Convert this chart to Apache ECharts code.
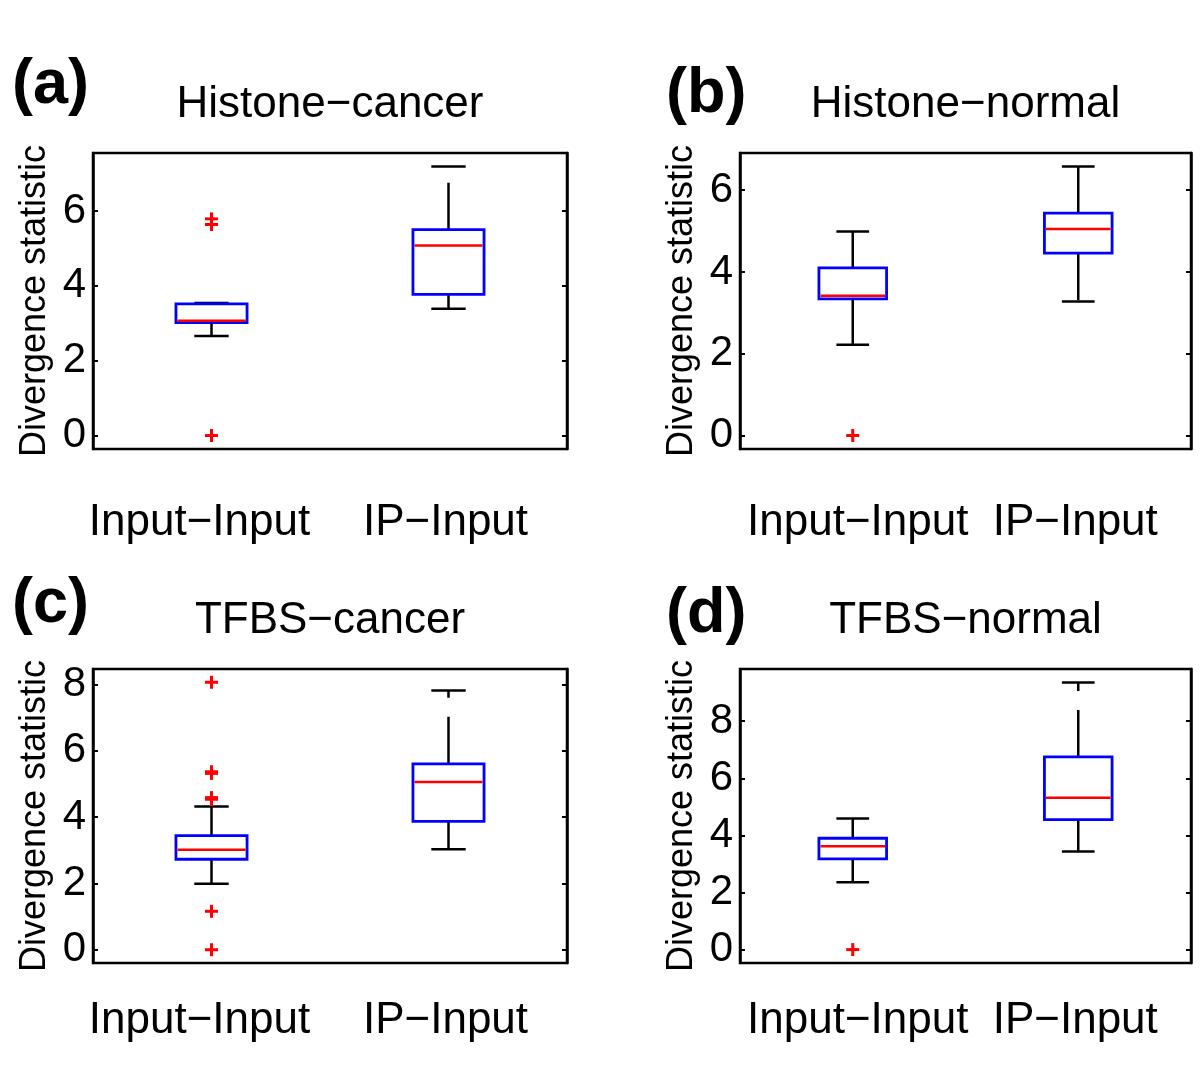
<!DOCTYPE html>
<html>
<head>
<meta charset="utf-8">
<script src="https://cdn.jsdelivr.net/npm/echarts@6/dist/echarts.min.js"></script>
<style>
html, body { margin: 0; padding: 0; background: #fff; }
#main { width: 1200px; height: 1075px; }
</style>
</head>
<body>
<div id="main"></div>
<script>
// categories shared by all four panels
var categories = ['Input\u2212Input', 'IP\u2212Input'];

// box stats per category: [lower whisker, q1, median, q3, upper whisker]
var histoneCancerBox = [[2.66, 3.02, 3.07, 3.52, 3.54], [3.39, 3.77, 5.08, 5.50, 7.19]];
var histoneNormalBox = [[2.22, 3.34, 3.42, 4.10, 4.99], [3.28, 4.46, 5.05, 5.44, 6.58]];
var tfbsCancerBox = [[1.99, 2.73, 3.02, 3.44, 4.32], [3.03, 3.87, 5.06, 5.61, 7.82]];
var tfbsNormalBox = [[2.36, 3.18, 3.62, 3.90, 4.59], [3.44, 4.55, 5.32, 6.75, 9.36]];

// outliers per category
var histoneCancerOut = [[0, 5.64, 5.79], []];
var histoneNormalOut = [[0], []];
var tfbsCancerOut = [[0, 1.16, 4.54, 4.59, 5.32, 5.37, 8.07], []];
var tfbsNormalOut = [[0], []];

// y tick labels
var histoneCancerTicks = [0, 2, 4, 6];
var histoneNormalTicks = [0, 2, 4, 6];
var tfbsCancerTicks = [0, 2, 4, 6, 8];
var tfbsNormalTicks = [0, 2, 4, 6, 8];

// y ranges
var histoneCancerRange = [-0.36, 7.55];
var histoneNormalRange = [-0.33, 6.91];
var tfbsCancerRange = [-0.40, 8.47];
var tfbsNormalRange = [-0.47, 9.83];

var panelTitles = ['Histone\u2212cancer', 'Histone\u2212normal', 'TFBS\u2212cancer', 'TFBS\u2212normal'];
var panelLetters = ['(a)', '(b)', '(c)', '(d)'];

var FONT = "'Liberation Sans', Arial, Helvetica, sans-serif";

var panels = [
    { box: histoneCancerBox, out: histoneCancerOut, ticks: histoneCancerTicks, range: histoneCancerRange,
      grid: { left: 93, top: 153, width: 474, height: 296 }, shift: -12, labelGap: 52 },
    { box: histoneNormalBox, out: histoneNormalOut, ticks: histoneNormalTicks, range: histoneNormalRange,
      grid: { left: 740, top: 153, width: 451, height: 296 }, shift: 5, labelGap: 52 },
    { box: tfbsCancerBox, out: tfbsCancerOut, ticks: tfbsCancerTicks, range: tfbsCancerRange,
      grid: { left: 93, top: 669, width: 474, height: 294 }, shift: -12, labelGap: 36 },
    { box: tfbsNormalBox, out: tfbsNormalOut, ticks: tfbsNormalTicks, range: tfbsNormalRange,
      grid: { left: 740, top: 669, width: 451, height: 294 }, shift: 5, labelGap: 36 }
];

function renderBox(params, api) {
    var c = api.value(0);
    var lo = api.coord([c, api.value(1)]),
        q1 = api.coord([c, api.value(2)]),
        md = api.coord([c, api.value(3)]),
        q3 = api.coord([c, api.value(4)]),
        hi = api.coord([c, api.value(5)]);
    var band = api.size([1, 0])[0];
    var bw = band * 0.3, cw = band * 0.145;
    var x = md[0];
    var whisker = { stroke: '#000', lineWidth: 2.5, lineDash: [47, 19] };
    var cap = { stroke: '#000', lineWidth: 2.5 };
    return {
        type: 'group',
        children: [
            { type: 'line', shape: { x1: x, y1: q3[1], x2: x, y2: hi[1] }, style: whisker },
            { type: 'line', shape: { x1: x, y1: q1[1], x2: x, y2: lo[1] }, style: whisker },
            { type: 'line', shape: { x1: x - cw / 2, y1: hi[1], x2: x + cw / 2, y2: hi[1] }, style: cap },
            { type: 'line', shape: { x1: x - cw / 2, y1: lo[1], x2: x + cw / 2, y2: lo[1] }, style: cap },
            { type: 'rect', shape: { x: x - bw / 2, y: q3[1], width: bw, height: q1[1] - q3[1] },
              style: { fill: 'none', stroke: '#0000ff', lineWidth: 2.8 } },
            { type: 'line', shape: { x1: x - bw / 2 + 1.5, y1: md[1], x2: x + bw / 2 - 1.5, y2: md[1] },
              style: { stroke: '#ff0000', lineWidth: 2.5 } }
        ]
    };
}

function renderPlus(params, api) {
    var p = api.coord([api.value(0), api.value(1)]);
    var h = 6.5;
    var st = { stroke: '#ff0000', lineWidth: 3 };
    return {
        type: 'group',
        children: [
            { type: 'line', shape: { x1: p[0] - h, y1: p[1], x2: p[0] + h, y2: p[1] }, style: st },
            { type: 'line', shape: { x1: p[0], y1: p[1] - h, x2: p[0], y2: p[1] + h }, style: st }
        ]
    };
}

var grids = [], xAxes = [], yAxes = [], series = [], graphics = [];

panels.forEach(function (p, i) {
    grids.push({
        left: p.grid.left, top: p.grid.top, width: p.grid.width, height: p.grid.height,
        show: true, borderColor: '#000', borderWidth: 2.5, backgroundColor: 'transparent'
    });
    var pad = p.shift < 0 ? [0, -2 * p.shift, 0, 0] : [0, 0, 0, 2 * p.shift];
    xAxes.push({
        type: 'category', gridIndex: i, data: categories,
        axisLine: { show: false }, axisTick: { show: false }, splitLine: { show: false },
        axisLabel: {
            interval: 0, color: '#000', fontSize: 44, fontFamily: FONT, margin: p.labelGap,
            formatter: function (v, idx) { return idx === 0 ? '{a|' + v + '}' : '{b|' + v + '}'; },
            rich: {
                a: { fontSize: 44, fontFamily: FONT, color: '#000', padding: pad },
                b: { fontSize: 44, fontFamily: FONT, color: '#000', padding: [0, 6, 0, 0] }
            }
        }
    });
    var tickStyle = { show: true, inside: true, length: 5, lineStyle: { color: '#000', width: 2 }, customValues: p.ticks };
    yAxes.push({
        type: 'value', gridIndex: i, min: p.range[0], max: p.range[1],
        name: 'Divergence statistic', nameLocation: 'middle', nameGap: 40,
        nameTextStyle: { color: '#000', fontSize: 36, fontFamily: FONT },
        axisLine: { show: true, lineStyle: { color: '#000', width: 2.5 } },
        axisTick: tickStyle,
        axisLabel: { color: '#000', fontSize: 42, fontFamily: FONT, margin: 7, customValues: p.ticks },
        splitLine: { show: false }
    });
    yAxes.push({
        type: 'value', gridIndex: i, position: 'right', min: p.range[0], max: p.range[1],
        axisLine: { show: true, lineStyle: { color: '#000', width: 2.5 } },
        axisTick: tickStyle,
        axisLabel: { show: false }, splitLine: { show: false }
    });
    series.push({
        type: 'custom', xAxisIndex: i, yAxisIndex: i * 2,
        renderItem: renderBox,
        encode: { x: 0, y: [1, 2, 3, 4, 5] },
        data: p.box.map(function (s, k) { return [k].concat(s); }),
        z: 2
    });
    var outData = [];
    p.out.forEach(function (vals, k) {
        vals.forEach(function (v) { outData.push([k, v]); });
    });
    series.push({
        type: 'custom', xAxisIndex: i, yAxisIndex: i * 2,
        renderItem: renderPlus,
        encode: { x: 0, y: 1 },
        data: outData,
        z: 3
    });
    var cx = p.grid.left + p.grid.width / 2;
    graphics.push({
        type: 'text', x: cx, y: p.grid.top - 48,
        style: { text: panelTitles[i], fill: '#000', font: '44px ' + FONT, textAlign: 'center', textVerticalAlign: 'middle' }
    });
});

var letterPos = [[12, 86], [666, 95], [12, 605], [666, 615]];
panelLetters.forEach(function (t, i) {
    graphics.push({
        type: 'text', x: letterPos[i][0], y: letterPos[i][1],
        style: { text: t, fill: '#000', font: 'bold 63px ' + FONT, textAlign: 'left', textVerticalAlign: 'middle' }
    });
});

var myChart = echarts.init(document.getElementById('main'));
option = {
    backgroundColor: '#fff',
    animation: false,
    grid: grids,
    xAxis: xAxes,
    yAxis: yAxes,
    series: series,
    graphic: graphics
};
myChart.setOption(option);
</script>
</body>
</html>
